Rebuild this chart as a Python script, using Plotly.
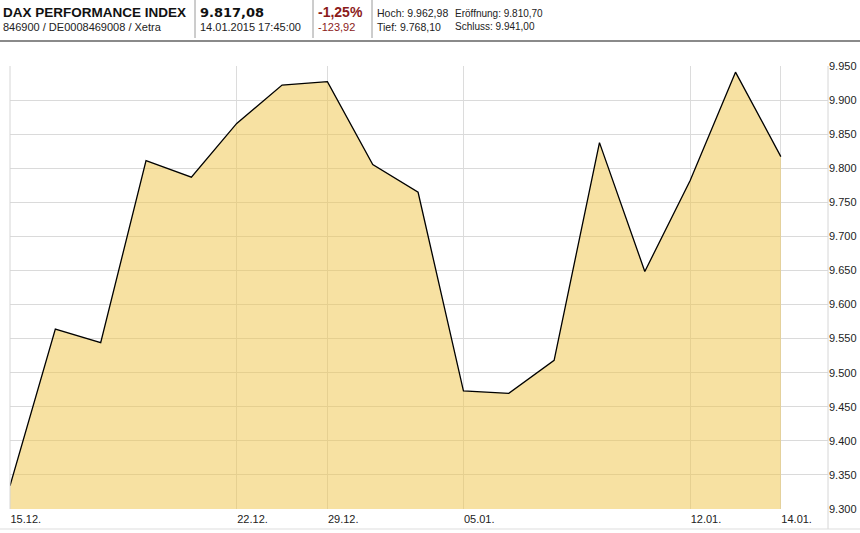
import plotly.graph_objects as go

# ---- data ----
dates = ["15.12.", "16.12.", "17.12.", "18.12.", "19.12.", "22.12.", "23.12.",
         "29.12.", "30.12.", "02.01.", "05.01.", "06.01.", "07.01.", "08.01.",
         "09.01.", "12.01.", "13.01.", "14.01."]
closes = [9334.01, 9563.89, 9544.19, 9811.06, 9786.96, 9865.76, 9922.07,
          9927.13, 9805.55, 9764.73, 9473.16, 9469.66, 9518.18, 9837.61,
          9648.50, 9781.91, 9941.00, 9817.08]
tick_labels = ["15.12.", "22.12.", "29.12.", "05.01.", "12.01.", "14.01."]
y_ticks = list(range(9300, 10000, 50))
y_tick_text = ["{:,}".format(v).replace(",", ".") for v in y_ticks]

idx = list(range(len(dates)))
tick_idx = [dates.index(t) for t in tick_labels]

W, H = 860, 533
L, R, T, B = 10, 828, 66, 509  # plot area in pixels

def px(x):
    return (x - L) / (R - L)

def py(y):
    return (B - y) / (B - T)

FONT = "Liberation Sans, Arial, sans-serif"

fig = go.Figure()
fig.add_trace(go.Scatter(
    x=idx, y=closes, mode="lines",
    line=dict(color="#000000", width=1.3),
    fill="tozeroy", fillcolor="rgba(240,198,76,0.52)",
    hoverinfo="skip", showlegend=False,
))

fig.update_layout(
    width=W, height=H,
    margin=dict(l=L, r=W - R, t=T, b=H - B, pad=0),
    paper_bgcolor="#FFFFFF", plot_bgcolor="#FFFFFF",
    font=dict(family=FONT, size=11, color="#222222"),
    xaxis=dict(
        range=[0, 18.04], tickmode="array", tickvals=tick_idx, ticktext=tick_labels,
        ticklabelposition="outside right", ticks="outside", ticklen=3,
        tickcolor="rgba(0,0,0,0)", showgrid=True,
        gridcolor="#DCDCDC", gridwidth=1, zeroline=False, showline=False,
        tickfont=dict(family=FONT, size=11, color="#222222"), fixedrange=True,
        automargin=False,
    ),
    yaxis=dict(
        side="right", range=[9300, 9950], tickmode="array", tickvals=y_ticks,
        ticktext=y_tick_text, showgrid=True, gridcolor="#DADADA", gridwidth=1,
        zeroline=False, showline=False, ticks="",
        tickfont=dict(family=FONT, size=11, color="#222222"), fixedrange=True,
        automargin=False,
    ),
)

# frame lines
shapes = []
line_gray = dict(color="#D6D6D6", width=1)
shapes.append(dict(type="line", xref="paper", yref="paper", x0=px(10), x1=px(10),
                   y0=py(66), y1=py(509), line=line_gray))
shapes.append(dict(type="line", xref="paper", yref="paper", x0=px(828), x1=px(828),
                   y0=py(66), y1=py(529), line=line_gray))
shapes.append(dict(type="line", xref="paper", yref="paper", x0=px(0), x1=px(860),
                   y0=py(529), y1=py(529), line=dict(color="#DDDDDD", width=1)))
# header separator
shapes.append(dict(type="line", xref="paper", yref="paper", x0=px(0), x1=px(860),
                   y0=py(41), y1=py(41), line=dict(color="#8A8A8A", width=2)))
for sx in [195, 313, 372]:
    shapes.append(dict(type="line", xref="paper", yref="paper", x0=px(sx), x1=px(sx),
                       y0=py(0), y1=py(38), line=dict(color="#9A9A9A", width=1)))
fig.update_layout(shapes=shapes)

BOLD_NUM = "DejaVu Sans, Verdana, sans-serif"
# header texts
header = [
    ("<b>DAX PERFORMANCE INDEX</b>", 1, 12, 13.5, "#111111", FONT),
    ("846900 / DE0008469008 / Xetra", 1, 27, 11, "#222222", FONT),
    ("<b>9.817,08</b>", 198, 12, 13, "#111111", BOLD_NUM),
    ("14.01.2015 17:45:00", 198, 27, 11, "#222222", FONT),
    ("<b>-1,25%</b>", 316, 12, 14, "#8B1A1A", FONT),
    ("-123,92", 316, 27, 11, "#8B1A1A", FONT),
    ("Hoch: 9.962,98", 375, 13, 10.5, "#222222", FONT),
    ("Eröffnung: 9.810,70", 453, 13, 10, "#222222", FONT),
    ("Tief: 9.768,10", 375, 27, 10.5, "#222222", FONT),
    ("Schluss: 9.941,00", 453, 27, 10, "#222222", FONT),
]
for text, x, y, size, color, fam in header:
    fig.add_annotation(text=text, xref="paper", yref="paper", x=px(x), y=py(y),
                       xanchor="left", yanchor="middle", showarrow=False,
                       font=dict(family=fam, size=size, color=color))

fig.write_html("out.html", config={"displayModeBar": False},
               post_script="document.body.style.margin='0';document.body.style.overflow='hidden';")
